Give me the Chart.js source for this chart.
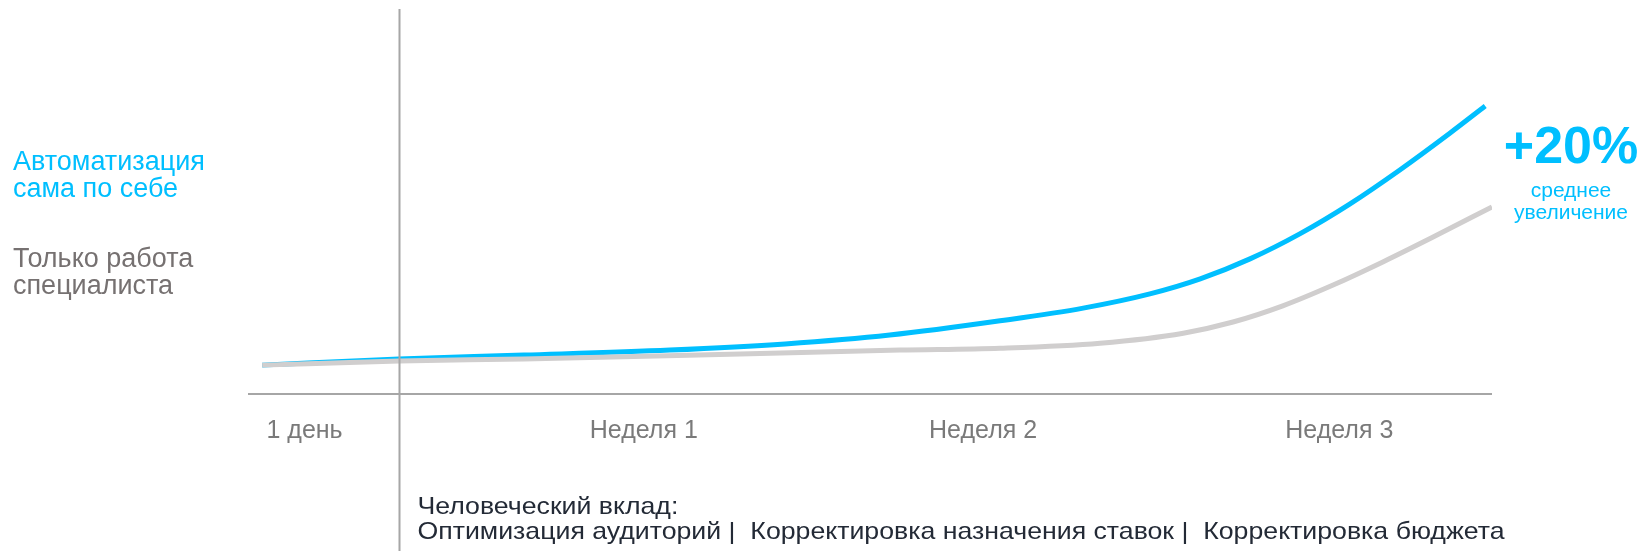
<!DOCTYPE html>
<html lang="ru">
<head>
<meta charset="utf-8">
<script src="https://cdn.jsdelivr.net/npm/chart.js@4/dist/chart.umd.min.js"></script>
<style>
    html, body { margin: 0; padding: 0; background: #ffffff; }
    #wrap { width: 1642px; height: 551px; position: relative; }
</style>
</head>
<body>
<div id="wrap"><canvas id="growth-chart"></canvas></div>
<script>
// Growth curves, x in days since start
const autoDays   = [0.25, 2.67, 4.88, 7.46, 9.50, 11.35, 13.30, 14.77, 15.95, 16.84, 17.72, 18.60, 19.49, 20.37, 21.26, 21.88];
const autoValues = [7.5, 9.1, 10.1, 11.4, 13.0, 15.3, 19.0, 22.3, 26.0, 29.9, 35.1, 41.6, 49.4, 58.2, 67.8, 74.8];

const specDays   = [0.25, 2.67, 4.88, 8.70, 11.53, 13.30, 15.07, 16.54, 17.42, 18.30, 19.19, 20.07, 20.95, 22.0];
const specValues = [7.5, 8.6, 9.1, 10.4, 11.4, 11.9, 13.2, 15.8, 18.7, 22.9, 28.3, 34.3, 40.7, 48.6];

const tickLabels    = ['1 день', 'Неделя 1', 'Неделя 2', 'Неделя 3'];
const tickPositions = [1, 7, 13, 19.3];
const dividerDay    = 2.67;

const seriesNames = ['Автоматизация сама по себе', 'Только работа специалиста'];
const bottomNote  = ['Человеческий вклад:', 'Оптимизация аудиторий |  Корректировка назначения ставок |  Корректировка бюджета'];

const colors = {
    auto:  '#00bfff',
    spec:  '#d0cece',
    specText: '#767171',
    axis:  '#a6a6a6',
    ticks: '#7a7a7a',
    note:  '#232a36'
};

const FONT = '"Liberation Sans", Arial, sans-serif';

const toPoints = (xs, ys) => xs.map((x, i) => ({ x: x, y: ys[i] }));

// axis lines, labels and side annotations
const decorations = {
    id: 'decorations',
    afterDatasetsDraw(chart) {
        const { ctx, chartArea, scales } = chart;
        const xs = scales.x;
        ctx.save();

        // baseline
        ctx.strokeStyle = colors.axis;
        ctx.lineWidth = 2;
        ctx.beginPath();
        ctx.moveTo(chartArea.left, chartArea.bottom);
        ctx.lineTo(chartArea.right, chartArea.bottom);
        ctx.stroke();

        // "day one" divider
        const dx = Math.round(xs.getPixelForValue(dividerDay)) + 0.5;
        ctx.beginPath();
        ctx.moveTo(dx, chartArea.top);
        ctx.lineTo(dx, chart.height);
        ctx.stroke();

        // period labels
        ctx.fillStyle = colors.ticks;
        ctx.font = '25px ' + FONT;
        ctx.textAlign = 'center';
        ctx.textBaseline = 'middle';
        tickLabels.forEach((t, i) => {
            ctx.fillText(t, xs.getPixelForValue(tickPositions[i]), chartArea.bottom + 37);
        });

        // series names on the left
        ctx.textAlign = 'left';
        ctx.font = '27px ' + FONT;
        ctx.fillStyle = colors.auto;
        ctx.fillText('Автоматизация', 13, 163);
        ctx.fillText('сама по себе', 13, 190);
        ctx.fillStyle = colors.specText;
        ctx.fillText('Только работа', 13, 260);
        ctx.fillText('специалиста', 13, 287);

        // uplift callout
        ctx.textAlign = 'center';
        ctx.fillStyle = colors.auto;
        ctx.font = 'bold 52px ' + FONT;
        ctx.fillText('+20%', 1571, 149);
        ctx.font = '21px ' + FONT;
        ctx.fillText('среднее', 1571, 191);
        ctx.fillText('увеличение', 1571, 213);

        // human input note
        ctx.textAlign = 'left';
        ctx.fillStyle = colors.note;
        ctx.font = '24px ' + FONT;
        const sx = 1087 / ctx.measureText(bottomNote[1]).width;
        ctx.translate(dx + 18, 0);
        ctx.scale(sx, 1);
        ctx.fillText(bottomNote[0], 0, 507);
        ctx.fillText(bottomNote[1], 0, 532);

        ctx.restore();
    }
};

const ctx = document.getElementById('growth-chart').getContext('2d');

new Chart(ctx, {
    type: 'line',
    data: {
        datasets: [
            {
                label: seriesNames[1],
                data: toPoints(specDays, specValues),
                borderColor: colors.spec,
                borderWidth: 5,
                pointRadius: 0,
                cubicInterpolationMode: 'monotone',
                fill: false
            },
            {
                label: seriesNames[0],
                data: toPoints(autoDays, autoValues),
                borderColor: colors.auto,
                borderWidth: 5,
                pointRadius: 0,
                cubicInterpolationMode: 'monotone',
                fill: false
            }
        ]
    },
    options: {
        responsive: true,
        maintainAspectRatio: false,
        animation: false,
        layout: {
            padding: { left: 248, right: 150, top: 9, bottom: 157 }
        },
        plugins: {
            legend: { display: false },
            tooltip: { enabled: false }
        },
        scales: {
            x: { type: 'linear', min: 0, max: 22, display: false },
            y: { min: 0, max: 100, display: false }
        }
    },
    plugins: [decorations]
});
</script>
</body>
</html>
